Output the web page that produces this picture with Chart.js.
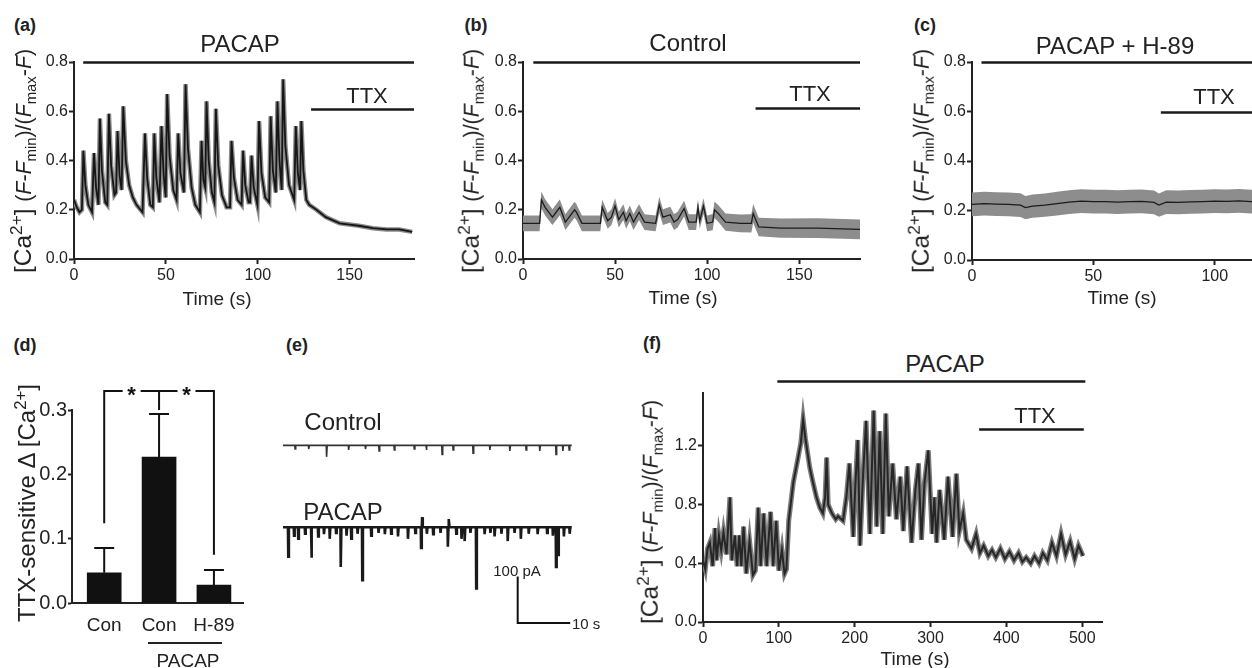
<!DOCTYPE html>
<html>
<head>
<meta charset="utf-8">
<script src="https://cdn.jsdelivr.net/npm/chart.js@4.4.1/dist/chart.umd.min.js"></script>
<style>
  body { margin: 0; width: 1252px; height: 668px; overflow: hidden; background: #fff; position: relative;
         font-family: "Liberation Sans", Arial, sans-serif; color: #222; }
  canvas { position: absolute; }
  .t { position: absolute; white-space: nowrap; line-height: 1; transform: translate(-50%, -50%); }
  .l { transform: translate(0, -50%); }
  .r { transform: translate(-50%, -50%) rotate(-90deg); }
  .b { font-weight: bold; }
  sup, sub { font-size: 70%; line-height: 0; }
  .hl { position: absolute; background: #222; }
</style>
</head>
<body>
<script>
// ---- (a) PACAP trace ----
const aTime = [0, 1.5, 3, 4.3, 5.1, 6.2, 7.8, 9.8, 10.9, 12, 13.3, 14.1, 15.2, 17, 18.1, 19, 20.2, 22, 22.9, 23.7,
  24.8, 25.9, 26.8, 28.2, 30, 32, 34, 37.3, 38.6, 39.8, 41.5, 42.9, 43.7, 44.8, 46.5, 47.6, 48.8, 49.9, 50.7, 52,
  54, 55.8, 56.7, 57.9, 59.8, 60.7, 62, 64, 66, 68.5, 69.4, 70.4, 71.4, 72.1, 73.3, 75, 76.4, 77.2, 78.5, 80.5,
  83, 84.9, 85.7, 87, 89, 91.2, 92, 93.2, 95, 95.8, 96.6, 97.8, 99.8, 100.7, 102, 104, 106.2, 107, 108.2, 109.8,
  110.7, 111.8, 113, 113.8, 115, 117, 119.8, 120.7, 121.8, 123, 123.7, 124.8, 126.4, 128, 131.9, 137, 144.6, 150,
  155, 162.6, 170, 177, 184];
const aRatio = [0.24, 0.21, 0.19, 0.20, 0.44, 0.30, 0.22, 0.19, 0.43, 0.29, 0.22, 0.57, 0.36, 0.23, 0.22, 0.59, 0.38, 0.26, 0.27, 0.52,
  0.34, 0.28, 0.62, 0.40, 0.30, 0.25, 0.22, 0.19, 0.51, 0.33, 0.22, 0.21, 0.51, 0.33, 0.23, 0.54, 0.34, 0.25, 0.67, 0.42,
  0.28, 0.24, 0.51, 0.35, 0.27, 0.71, 0.45, 0.29, 0.22, 0.19, 0.48, 0.32, 0.29, 0.64, 0.40, 0.27, 0.23, 0.61, 0.38, 0.26,
  0.21, 0.21, 0.48, 0.33, 0.24, 0.22, 0.44, 0.30, 0.23, 0.23, 0.42, 0.29, 0.22, 0.56, 0.35, 0.25, 0.23, 0.58, 0.36, 0.27,
  0.64, 0.40, 0.28, 0.73, 0.46, 0.30, 0.24, 0.54, 0.35, 0.28, 0.56, 0.36, 0.24, 0.22, 0.20, 0.17, 0.145, 0.14,
  0.135, 0.125, 0.12, 0.12, 0.11];
const aPacap = [5, 185];
const aTtx = [129, 185];

// ---- (b) Control trace, mean and SEM ----
const bTime = [0, 9, 10, 12, 16, 19, 20, 23, 28, 29, 32, 42, 43, 46, 48, 50, 52, 54.5, 56, 58, 60, 63, 66, 72, 74,
  76, 80, 82, 84, 87.5, 90, 94, 95, 96, 98, 100, 103, 104, 106, 110, 118, 124, 125, 128, 140, 160, 183];
const bMean = [0.145, 0.145, 0.24, 0.21, 0.17, 0.20, 0.21, 0.15, 0.20, 0.19, 0.145, 0.145, 0.21, 0.155, 0.17, 0.215, 0.16,
  0.19, 0.155, 0.185, 0.15, 0.19, 0.15, 0.145, 0.22, 0.17, 0.18, 0.15, 0.16, 0.205, 0.15, 0.15, 0.21, 0.155, 0.215,
  0.145, 0.15, 0.20, 0.185, 0.15, 0.145, 0.145, 0.185, 0.13, 0.125, 0.125, 0.12];
const bSem = [0.032, 0.032, 0.034, 0.033, 0.032, 0.032, 0.032, 0.032, 0.032, 0.032, 0.032, 0.032, 0.032, 0.032, 0.032,
  0.032, 0.032, 0.032, 0.032, 0.032, 0.032, 0.032, 0.032, 0.032, 0.033, 0.032, 0.032, 0.032, 0.032, 0.032, 0.032,
  0.032, 0.032, 0.032, 0.032, 0.032, 0.033, 0.034, 0.034, 0.035, 0.036, 0.037, 0.038, 0.038, 0.039, 0.040, 0.040];
const bControl = [5.6, 183];
const bTtx = [126.3, 183];

// ---- (c) PACAP + H-89 trace ----
const cTime = [0, 5, 10, 15, 20, 22, 25, 30, 35, 40, 45, 50, 55, 60, 65, 70, 75, 77, 80, 85, 90, 95, 100, 105, 110,
  115, 120, 125, 131];
const cMean = [0.225, 0.228, 0.226, 0.225, 0.222, 0.212, 0.218, 0.222, 0.228, 0.234, 0.238, 0.236, 0.236, 0.234, 0.236,
  0.237, 0.233, 0.222, 0.234, 0.233, 0.235, 0.236, 0.238, 0.237, 0.239, 0.236, 0.238, 0.237, 0.236];
const cSem = [0.048, 0.048, 0.048, 0.048, 0.048, 0.047, 0.047, 0.047, 0.048, 0.048, 0.048, 0.048, 0.048, 0.048, 0.048,
  0.048, 0.048, 0.047, 0.048, 0.048, 0.048, 0.048, 0.048, 0.048, 0.048, 0.048, 0.048, 0.048, 0.048];
const cPacapH89 = [3.9, 131];
const cTtx = [77.8, 131];

// ---- (d) TTX-sensitive change ----
const dLabels = ['Con', 'Con', 'H-89'];
const dPos = [1, 2, 3];
const dMean = [0.047, 0.227, 0.028];
const dSem = [0.039, 0.067, 0.024];
const dBracketLevel = 0.329;
const dLegEnd = [0.124, 0.300, 0.075];

// ---- (e) currents: event times (s) and amplitudes (pA, downward positive) ----
const eControlTimes = [2.3, 4.9, 8.3, 12.5, 15.7, 18.3, 21.2, 25, 27.3, 30.3, 32.4, 36.2, 39.4, 43.2, 46.3, 48.9, 52, 53.3, 54.5];
const eControlAmps = [8, 8, 25, 10, 8, 12, 10, 8, 10, 20, 10, 17, 10, 12, 10, 12, 20, 12, 10];
const ePacapTimes = [1.0, 2.1, 2.9, 4.2, 5.4, 6.7, 7.8, 8.9, 10.1, 11.0, 12.1, 13.0, 14.2, 15.1, 16.8, 18.2, 19.4, 20.6,
  21.9, 23.8, 25.2, 26.3, 26.5, 27.4, 28.6, 30.0, 31.4, 31.6, 33.0, 34.0, 34.6, 35.7, 36.8, 38.4, 39.5, 40.3, 41.6,
  42.8, 44.1, 45.3, 46.8, 48.5, 50.3, 51.4, 52.0, 52.4, 53.5, 54.6];
const ePacapAmps = [64, 18, 25, 14, 66, 20, 15, 25, 12, 86, 18, 25, 14, 115, 18, 12, 15, 14,
  20, 25, 12, 45, -22, 14, 15, 12, 42, -18, 14, 25, 30, 12, 133, 15, 12, 20, 14,
  30, 12, 25, 14, 15, 12, 18, 86, 60, 20, 14];
const eControlBase = 0;
const ePacapBase = -178;
const eScaleX = [44.7, 44.7, 54.7];
const eScaleY = [-285, -386, -386];

// ---- (f) PACAP then TTX, long recording ----
const fTime = [0, 3, 6, 9, 12.7, 15.8, 18, 21, 24, 27, 31, 35.5, 38, 42, 45, 47.8, 50.5, 53.5, 57, 61.4, 65.8, 69,
  72.8, 76, 80, 84, 89, 92.5, 96.5, 100, 104, 107.5, 110, 113, 119, 125.4, 129, 132, 135, 140.8, 145, 149.6, 154,
  158, 161, 163, 165, 170, 175, 178, 184.6, 189, 193, 198, 201, 204, 207, 211, 215, 220, 225, 229, 233, 237, 241,
  245, 250, 255, 260, 264, 269, 275, 280, 284, 288, 292, 297, 302, 305, 308, 312, 318, 323, 329, 334, 338, 343,
  347, 354, 360, 365, 370, 376, 381, 386, 392, 398, 404, 410, 416, 421, 426, 432, 437, 443, 448, 454, 460, 466,
  472, 478, 484, 490, 495, 501];
const fRatio = [0.42, 0.36, 0.50, 0.54, 0.38, 0.64, 0.42, 0.59, 0.49, 0.61, 0.46, 0.85, 0.42, 0.59, 0.38, 0.59, 0.38,
  0.65, 0.33, 0.55, 0.32, 0.35, 0.78, 0.38, 0.74, 0.38, 0.75, 0.38, 0.69, 0.35, 0.49, 0.33, 0.36, 0.69, 0.95, 1.12,
  1.22, 1.38, 1.25, 1.05, 0.95, 0.85, 0.78, 0.74, 0.85, 1.12, 0.80, 0.74, 0.70, 0.72, 0.69, 0.85, 1.08, 0.58, 0.95,
  1.24, 0.52, 1.0, 1.37, 0.60, 1.44, 0.65, 1.30, 0.60, 1.42, 0.72, 1.08, 0.70, 0.99, 0.62, 1.06, 0.54, 0.90, 1.08,
  0.56, 0.95, 1.17, 0.60, 0.85, 0.54, 0.90, 0.56, 0.99, 0.58, 1.01, 0.62, 0.74, 0.56, 0.50, 0.60, 0.47, 0.52, 0.45,
  0.49, 0.44, 0.50, 0.43, 0.48, 0.42, 0.47, 0.41, 0.44, 0.40, 0.45, 0.40, 0.47, 0.42, 0.54, 0.45, 0.60, 0.46, 0.55,
  0.43, 0.52, 0.45];
const fPacap = [98, 504];
const fTtx = [364, 502];

// tick values
const xTicksAB = [0, 50, 100, 150];
const xTicksC = [0, 50, 100];
const yTicksABC = [0, 0.2, 0.4, 0.6, 0.8];
const yTicksD = [0, 0.1, 0.2, 0.3];
const xTicksF = [0, 100, 200, 300, 400, 500];
const yTicksF = [0, 0.4, 0.8, 1.2];

Chart.defaults.font.family = '"Liberation Sans", Arial, sans-serif';
Chart.defaults.color = '#222';

const INK = '#222';

function makeCanvas(left, top, w, h) {
  const c = document.createElement('canvas');
  c.width = w; c.height = h;
  c.style.left = left + 'px'; c.style.top = top + 'px';
  c.style.width = w + 'px'; c.style.height = h + 'px';
  document.body.appendChild(c);
  return c;
}

function pts(xs, ys) { return xs.map((x, i) => ({ x, y: ys[i] })); }

function txt(html, x, y, size, cls) {
  const d = document.createElement('div');
  d.className = 't ' + (cls || '');
  d.style.left = x + 'px'; d.style.top = y + 'px'; d.style.fontSize = size + 'px';
  d.innerHTML = html;
  document.body.appendChild(d);
}

// horizontal treatment bars (drug application periods)
const treatPlugin = {
  id: 'treat',
  afterDatasetsDraw(chart, args, opts) {
    if (!opts.bars) return;
    const { ctx, scales: { x, y } } = chart;
    ctx.save();
    ctx.strokeStyle = '#1a1a1a';
    ctx.lineWidth = 2.5;
    opts.bars.forEach(b => {
      const py = Math.round(y.getPixelForValue(b.level)) + 0.5;
      ctx.beginPath();
      ctx.moveTo(x.getPixelForValue(b.span[0]), py);
      ctx.lineTo(x.getPixelForValue(b.span[1]), py);
      ctx.stroke();
    });
    ctx.restore();
  }
};

function xAxis(min, max, ticks, size, tickLen, pad, h) {
  return {
    type: 'linear', min, max, offset: false,
    afterBuildTicks: s => { s.ticks = ticks.map(v => ({ value: v })); },
    afterFit: s => { s.height = h; },
    grid: { display: true, offset: false, drawOnChartArea: false, drawTicks: true, tickLength: tickLen, tickColor: INK, tickWidth: 2 },
    border: { display: true, color: INK, width: 2 },
    ticks: { font: { size }, color: INK, padding: pad, maxRotation: 0, autoSkip: false }
  };
}

function yAxis(min, max, ticks, size, tickLen, pad, w) {
  return {
    type: 'linear', min, max,
    afterBuildTicks: s => { s.ticks = ticks.map(v => ({ value: v })); },
    afterFit: s => { s.width = w; },
    grid: { display: true, drawOnChartArea: false, drawTicks: true, tickLength: tickLen, tickColor: INK, tickWidth: 2 },
    border: { display: true, color: INK, width: 2 },
    ticks: { font: { size }, color: INK, padding: pad, callback: v => v.toFixed(1) }
  };
}

function tracePanel(box, xs, ys, datasets, bars) {
  const axisW = 52, axisH = 40, padT = 14, padR = 8;
  const w = axisW + (box.r - box.l) + padR, h = padT + (box.b - box.t) + axisH;
  const cv = makeCanvas(box.l - axisW, box.t - padT, w, h);
  new Chart(cv, {
    type: 'line',
    data: { datasets },
    options: {
      responsive: false, animation: false, devicePixelRatio: 1,
      layout: { padding: { top: padT, right: padR, left: 0, bottom: 0 } },
      elements: { point: { radius: 0 }, line: { tension: 0 } },
      plugins: { legend: { display: false }, tooltip: { enabled: false }, treat: { bars } },
      scales: {
        x: xAxis(xs.min, xs.max, xs.ticks, 16, 5, 2, axisH),
        y: yAxis(0, ys.max, ys.ticks, 16, 5, 1, axisW)
      }
    },
    plugins: [treatPlugin]
  });
}

// dark trace on top (order 0), wider grey halo underneath (order 1)
function traceLines(t, v, halo, haloWidth, core, coreWidth) {
  return [
    { data: pts(t, v), borderColor: core, borderWidth: coreWidth, fill: false, order: 0 },
    { data: pts(t, v), borderColor: halo, borderWidth: haloWidth, fill: false, order: 1 }
  ];
}

// mean line on top of a mean ± SEM band
function bandLines(t, mean, sem, bandColor) {
  return [
    { data: pts(t, mean), borderColor: '#1c1c1c', borderWidth: 1.3, fill: false, order: 0 },
    { data: pts(t, mean.map((m, i) => m - sem[i])), borderWidth: 0, borderColor: 'rgba(0,0,0,0)', fill: false, order: 1 },
    { data: pts(t, mean.map((m, i) => m + sem[i])), borderWidth: 0, borderColor: 'rgba(0,0,0,0)', fill: '-1', backgroundColor: bandColor, order: 1 }
  ];
}

// ---- panel (a) ----
tracePanel({ l: 74, t: 62, r: 414, b: 259 },
  { min: 0, max: 185, ticks: xTicksAB }, { max: 0.8, ticks: yTicksABC },
  traceLines(aTime, aRatio, '#8a8a8a', 4.5, '#161616', 1.8),
  [{ span: aPacap, level: 0.8 }, { span: aTtx, level: 0.61 }]);

// ---- panel (b) ----
tracePanel({ l: 523, t: 62, r: 860, b: 259 },
  { min: 0, max: 183, ticks: xTicksAB }, { max: 0.8, ticks: yTicksABC },
  bandLines(bTime, bMean, bSem, '#8d8d8d'),
  [{ span: bControl, level: 0.8 }, { span: bTtx, level: 0.612 }]);

// ---- panel (c) ----
tracePanel({ l: 972, t: 62, r: 1290, b: 260 },
  { min: 0, max: 131, ticks: xTicksC }, { max: 0.8, ticks: yTicksABC },
  bandLines(cTime, cMean, cSem, '#8d8d8d'),
  [{ span: cPacapH89, level: 0.8 }, { span: cTtx, level: 0.60 }]);

// ---- panel (f) ----
tracePanel({ l: 703, t: 393, r: 1102, b: 622 },
  { min: 0, max: 526, ticks: xTicksF }, { max: 1.56, ticks: yTicksF },
  traceLines(fTime, fRatio, '#7c7c7c', 5, '#262626', 2),
  [{ span: fPacap, level: 1.643 }, { span: fTtx, level: 1.314 }]);

// ---- panel (d) bar chart ----
const dExtras = {
  id: 'dExtras',
  afterDatasetsDraw(chart) {
    const { ctx, scales: { x, y } } = chart;
    ctx.save();
    ctx.strokeStyle = '#111';
    ctx.lineWidth = 2;
    dPos.forEach((p, i) => {
      const px = x.getPixelForValue(p);
      const top = y.getPixelForValue(dMean[i]);
      const e = Math.round(y.getPixelForValue(dMean[i] + dSem[i]));
      ctx.beginPath();
      ctx.moveTo(px, top); ctx.lineTo(px, e);
      ctx.moveTo(px - 10, e); ctx.lineTo(px + 10, e);
      ctx.stroke();
    });
    // significance brackets
    const by = Math.round(y.getPixelForValue(dBracketLevel));
    const gap = 9;
    ctx.beginPath();
    dPos.forEach((p, i) => {
      const px = x.getPixelForValue(p);
      ctx.moveTo(px, by); ctx.lineTo(px, y.getPixelForValue(dLegEnd[i]));
    });
    for (let i = 0; i < dPos.length - 1; i++) {
      const a = x.getPixelForValue(dPos[i]), b = x.getPixelForValue(dPos[i + 1]);
      const m = (a + b) / 2;
      ctx.moveTo(a - 1, by); ctx.lineTo(m - gap, by);
      ctx.moveTo(m + gap, by); ctx.lineTo(b + 1, by);
    }
    ctx.stroke();
    ctx.fillStyle = '#111';
    ctx.font = 'bold 22px "Liberation Sans", Arial, sans-serif';
    ctx.textAlign = 'center';
    ctx.textBaseline = 'middle';
    for (let i = 0; i < dPos.length - 1; i++) {
      const m = (x.getPixelForValue(dPos[i]) + x.getPixelForValue(dPos[i + 1])) / 2;
      ctx.fillText('*', m, by + 5);
    }
    ctx.restore();
  }
};

(function () {
  const box = { l: 72, t: 410, r: 243, b: 603 };
  const axisW = 50, axisH = 60, padT = 30, padR = 10;
  const cv = makeCanvas(box.l - axisW, box.t - padT, axisW + box.r - box.l + padR, padT + box.b - box.t + axisH);
  new Chart(cv, {
    type: 'bar',
    data: { datasets: [{ data: pts(dPos, dMean), backgroundColor: '#111', barThickness: 34 }] },
    options: {
      responsive: false, animation: false, devicePixelRatio: 1,
      layout: { padding: { top: padT, right: padR, left: 0, bottom: 0 } },
      plugins: { legend: { display: false }, tooltip: { enabled: false } },
      scales: {
        x: {
          type: 'linear', min: 0.413, max: 3.53, offset: false,
          afterBuildTicks: s => { s.ticks = dPos.map(v => ({ value: v })); },
          afterFit: s => { s.height = axisH; },
          grid: { display: true, offset: false, drawOnChartArea: false, drawTicks: false },
          border: { display: true, color: INK, width: 2 },
          ticks: { font: { size: 19 }, color: INK, padding: 11, maxRotation: 0, autoSkip: false, callback: (v, i) => dLabels[i] }
        },
        y: yAxis(0, 0.3, yTicksD, 20, 4, 1, axisW)
      }
    },
    plugins: [dExtras]
  });
})();

// ---- panel (e) current traces ----
function spikeSeries(times, amps, base, end) {
  const out = [{ x: 0, y: base }];
  times.forEach((t, i) => {
    out.push({ x: t - 0.06, y: base }, { x: t, y: base - amps[i] }, { x: t + 0.12, y: base });
  });
  out.push({ x: end, y: base });
  return out;
}

(function () {
  const cv = makeCanvas(283, 420, 300, 210);
  new Chart(cv, {
    type: 'line',
    data: {
      datasets: [
        { data: spikeSeries(eControlTimes, eControlAmps, eControlBase, 55), borderColor: '#333', borderWidth: 1.6, fill: false },
        { data: spikeSeries(ePacapTimes, ePacapAmps, ePacapBase, 55), borderColor: '#1a1a1a', borderWidth: 2.6, fill: false },
        { data: pts(eScaleX, eScaleY), borderColor: '#111', borderWidth: 2, fill: false }
      ]
    },
    options: {
      responsive: false, animation: false, devicePixelRatio: 1,
      layout: { padding: 0 },
      elements: { point: { radius: 0 }, line: { tension: 0 } },
      plugins: { legend: { display: false }, tooltip: { enabled: false } },
      scales: {
        x: { type: 'linear', min: 0, max: 57.14, display: false },
        y: { type: 'linear', min: -401, max: 55, display: false }
      }
    }
  });
})();

// ---- text ----
const caLabel = '[Ca<sup>2+</sup>] <span style="font-size:0.87em">(<i>F</i>-<i>F</i><sub>min</sub>)/(<i>F</i><sub>max</sub>-<i>F</i>)</span>';

txt('(a)', 25, 25, 18, 'b');
txt('(b)', 476, 25, 18, 'b');
txt('(c)', 925, 25, 18, 'b');
txt('(d)', 25, 345, 18, 'b');
txt('(e)', 297, 345, 18, 'b');
txt('(f)', 652, 343, 18, 'b');

txt(caLabel, 23, 161, 24.5, 'r');
txt(caLabel, 471, 161, 24.5, 'r');
txt(caLabel, 921, 161, 24.5, 'r');
txt(caLabel, 650, 512, 24.5, 'r');
txt('TTX-sensitive Δ [Ca<sup>2+</sup>]', 27, 503, 24, 'r');

txt('PACAP', 240, 44, 24);
txt('Control', 688, 43, 24);
txt('PACAP + H-89', 1115, 46, 24);
txt('TTX', 367, 96, 22);
txt('TTX', 810, 94, 22);
txt('TTX', 1214, 97, 22);
txt('PACAP', 945, 364, 24);
txt('TTX', 1035, 416, 22);

txt('Time (s)', 217, 298, 19);
txt('Time (s)', 683, 297, 19);
txt('Time (s)', 1122, 297, 19);
txt('Time (s)', 915, 658, 19);

txt('Control', 343, 422, 24);
txt('PACAP', 343, 512, 24);
txt('100 pA', 517, 570, 15);
txt('10 s', 572, 623, 15, 'l');

txt('PACAP', 188, 660, 19);
const gl = document.createElement('div');
gl.className = 'hl';
gl.style.left = '148px'; gl.style.top = '642px'; gl.style.width = '74px'; gl.style.height = '2px';
document.body.appendChild(gl);
</script>
</body>
</html>
